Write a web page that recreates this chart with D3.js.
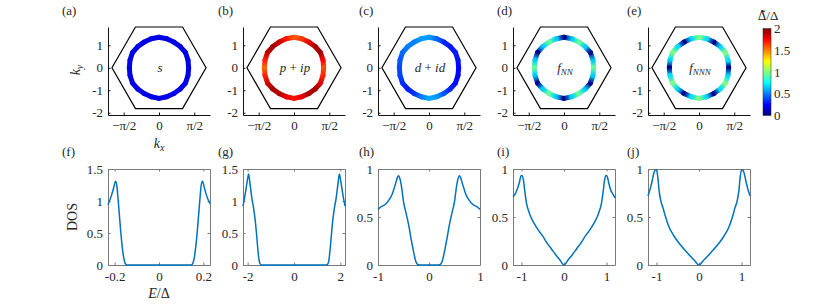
<!DOCTYPE html>
<html>
<head>
<meta charset="utf-8">
<script src="https://cdn.jsdelivr.net/npm/d3@7"></script>
<style>
body { margin: 0; background: #fff; }
svg text { font-family: 'Liberation Serif', 'Times New Roman', serif; fill: #262626; }
</style>
</head>
<body>
<svg id="fig" width="830" height="308"></svg>
<script>
// ---- data ----
// Brillouin zone corners (kx, ky)
const bzCorners = [[2.094, 0], [1.047, 1.814], [-1.047, 1.814], [-2.094, 0], [-1.047, -1.814], [1.047, -1.814]];

// Fermi surface, sampled every 15 degrees
const ringAngles = [0, 15, 30, 45, 60, 75, 90, 105, 120, 135, 150, 165, 180, 195, 210, 225, 240, 255, 270, 285, 300, 315, 330, 345];
const ringRadius = [1.32, 1.335, 1.36, 1.335, 1.32, 1.335, 1.36, 1.335, 1.32, 1.335, 1.36, 1.335,
                    1.32, 1.335, 1.36, 1.335, 1.32, 1.335, 1.36, 1.335, 1.32, 1.335, 1.36, 1.335];

// gap on the Fermi surface, Delta~/Delta
const gapS    = [0.2, 0.2, 0.2, 0.2, 0.2, 0.2, 0.2, 0.2, 0.2, 0.2, 0.2, 0.2,
                 0.2, 0.2, 0.2, 0.2, 0.2, 0.2, 0.2, 0.2, 0.2, 0.2, 0.2, 0.2];
const gapP    = [1.6, 1.75, 1.92, 1.92, 1.8, 1.65, 1.58, 1.7, 1.85, 1.93, 1.88, 1.7,
                 1.55, 1.68, 1.85, 1.92, 1.9, 1.8, 1.72, 1.8, 1.92, 1.93, 1.82, 1.68];
const gapD    = [0.26, 0.28, 0.3, 0.29, 0.32, 0.45, 0.56, 0.56, 0.5, 0.5, 0.46, 0.42,
                 0.4, 0.38, 0.34, 0.3, 0.35, 0.48, 0.58, 0.55, 0.42, 0.32, 0.28, 0.26];
const gapFNN  = [0.95, 0.65, 0.02, 0.65, 0.95, 0.65, 0.02, 0.65, 0.95, 0.65, 0.02, 0.65,
                 0.95, 0.65, 0.02, 0.65, 0.95, 0.65, 0.02, 0.65, 0.95, 0.65, 0.02, 0.65];
const gapFNNN = [0.02, 0.68, 1.0, 0.68, 0.02, 0.68, 1.0, 0.68, 0.02, 0.68, 1.0, 0.68,
                 0.02, 0.68, 1.0, 0.68, 0.02, 0.68, 1.0, 0.68, 0.02, 0.68, 1.0, 0.68];

// density of states
const eS   = [-0.23, -0.215, -0.205, -0.196, -0.19, -0.185, -0.178, -0.172, -0.166, -0.16, -0.155, -0.15, -0.145,
              0, 0.145, 0.15, 0.155, 0.16, 0.166, 0.172, 0.178, 0.185, 0.19, 0.196, 0.205, 0.215, 0.23];
const dosS = [0.94, 1.08, 1.2, 1.31, 1.24, 1.05, 0.75, 0.5, 0.29, 0.13, 0.05, 0.01, 0,
              0, 0, 0.01, 0.05, 0.13, 0.29, 0.5, 0.75, 1.05, 1.24, 1.31, 1.2, 1.08, 0.96];

const eP   = [-2.2, -2.1, -2.0, -1.96, -1.9, -1.82, -1.74, -1.68, -1.62, -1.56, -1.5, -1.45, -1.4,
              0, 1.4, 1.45, 1.5, 1.56, 1.62, 1.68, 1.74, 1.82, 1.9, 1.96, 2.0, 2.1, 2.2];
const dosP = [0.92, 1.12, 1.35, 1.42, 1.28, 1.05, 0.88, 0.72, 0.5, 0.25, 0.06, 0.01, 0,
              0, 0, 0.01, 0.06, 0.25, 0.5, 0.72, 0.88, 1.05, 1.28, 1.42, 1.35, 1.12, 0.92];

const eD   = [-1, -0.93, -0.86, -0.78, -0.72, -0.66, -0.62, -0.6, -0.57, -0.54, -0.5, -0.45, -0.4, -0.35, -0.3, -0.26, -0.22, -0.18,
              0, 0.18, 0.22, 0.26, 0.3, 0.35, 0.4, 0.45, 0.5, 0.54, 0.57, 0.6, 0.62, 0.66, 0.72, 0.78, 0.86, 0.93, 1];
const dosD = [0.58, 0.61, 0.63, 0.68, 0.74, 0.84, 0.91, 0.93, 0.9, 0.82, 0.66, 0.54, 0.42, 0.27, 0.13, 0.04, 0.005, 0,
              0, 0, 0.005, 0.04, 0.13, 0.27, 0.42, 0.54, 0.66, 0.82, 0.9, 0.93, 0.91, 0.84, 0.74, 0.68, 0.63, 0.61, 0.58];

const eFNN   = [-1.2, -1.15, -1.1, -1.05, -1.01, -0.98, -0.95, -0.92, -0.88, -0.83, -0.78, -0.7, -0.6, -0.5, -0.4, -0.3, -0.2, -0.1,
                0, 0.1, 0.2, 0.3, 0.4, 0.5, 0.6, 0.7, 0.78, 0.83, 0.88, 0.92, 0.95, 0.98, 1.01, 1.05, 1.1, 1.15, 1.2];
const dosFNN = [0.71, 0.74, 0.79, 0.86, 0.93, 0.93, 0.87, 0.76, 0.64, 0.56, 0.5, 0.43, 0.36, 0.3, 0.23, 0.17, 0.11, 0.055,
                0, 0.055, 0.11, 0.17, 0.23, 0.3, 0.36, 0.43, 0.5, 0.56, 0.64, 0.76, 0.87, 0.93, 0.93, 0.86, 0.78, 0.74, 0.7];

const eFNNN   = [-1.2, -1.15, -1.1, -1.06, -1.03, -1.0, -0.97, -0.94, -0.9, -0.85, -0.8, -0.7, -0.6, -0.5, -0.4, -0.3, -0.2, -0.1,
                 0, 0.1, 0.2, 0.3, 0.4, 0.5, 0.6, 0.7, 0.8, 0.85, 0.9, 0.94, 0.97, 1.0, 1.03, 1.06, 1.1, 1.15, 1.2];
const dosFNNN = [0.72, 0.79, 0.88, 0.96, 0.99, 0.99, 0.92, 0.78, 0.67, 0.6, 0.52, 0.39, 0.31, 0.245, 0.19, 0.14, 0.09, 0.045,
                 0, 0.045, 0.09, 0.14, 0.19, 0.245, 0.31, 0.39, 0.52, 0.6, 0.67, 0.78, 0.92, 0.99, 0.99, 0.96, 0.88, 0.79, 0.72];

const topLabels = ['(a)', '(b)', '(c)', '(d)', '(e)'];
const botLabels = ['(f)', '(g)', '(h)', '(i)', '(j)'];
const dosXDomain = [[-0.23, 0.23], [-2.2, 2.2], [-1, 1], [-1.2, 1.2], [-1.2, 1.2]];
const dosXTicks = [[-0.2, 0, 0.2], [-2, 0, 2], [-1, 0, 1], [-1, 0, 1], [-1, 0, 1]];
const dosYMax = [1.5, 1.5, 1, 1, 1];
const dosYTicks = [[0, 0.5, 1, 1.5], [0, 0.5, 1, 1.5], [0, 0.5, 1], [0, 0.5, 1], [0, 0.5, 1]];
const kTicks = [-Math.PI / 2, 0, Math.PI / 2];
const kTickLabels = ['\u2212\u03c0/2', '0', '\u03c0/2'];
const kyTicks = [-2, -1, 0, 1];
const cbTicks = [0, 0.5, 1, 1.5, 2];

const gaps = [gapS, gapP, gapD, gapFNN, gapFNNN];
const dosE = [eS, eP, eD, eFNN, eFNNN];
const dosV = [dosS, dosP, dosD, dosFNN, dosFNNN];

// ---- layout ----
const svg = d3.select('#fig');
const panelX = [108, 243, 378, 513, 648];
const labelX = [62, 218, 359, 497, 627];
const panelW = 102;
const topY = 27, topH = 88;
const botY = 169, botH = 96;
const tickFont = 13;

const jetStops = [0, 0.25, 0.75, 1.25, 1.75, 2];
const jet = d3.scaleLinear()
    .domain(jetStops)
    .range(['#000080', '#0000ff', '#00ffff', '#ffff00', '#ff0000', '#800000'])
    .clamp(true);

const defs = svg.append('defs');

function styleAxis(ax, color) {
    ax.attr('font-family', null).attr('font-size', null);
    ax.select('.domain').attr('stroke', color);
    ax.selectAll('.tick line').attr('stroke', color);
    ax.selectAll('.tick text').attr('font-size', tickFont).attr('fill', '#262626');
}

// ---- top row: gap on the Fermi surface ----
panelX.forEach((px, p) => {
    const g = svg.append('g').attr('transform', `translate(${px},${topY})`);
    const x = d3.scaleLinear().domain([-2.27, 2.27]).range([0, panelW]);
    const y = d3.scaleLinear().domain([-2.1, 1.814]).range([topH, 0]);

    // Brillouin zone
    g.append('path')
        .datum(bzCorners)
        .attr('d', d3.line().x(d => x(d[0])).y(d => y(d[1])).curve(d3.curveLinearClosed))
        .attr('fill', 'none')
        .attr('stroke', '#000')
        .attr('stroke-width', 1.2);

    // Fermi surface coloured by gap
    const gap = gaps[p];
    const pts = ringAngles.map((a, i) => {
        const t = a * Math.PI / 180;
        return [x(ringRadius[i] * Math.cos(t)), y(ringRadius[i] * Math.sin(t))];
    });
    const n = pts.length;
    for (let i = 0; i < n; i++) {
        const j = (i + 1) % n;
        const id = `fs${p}_${i}`;
        const grad = defs.append('linearGradient')
            .attr('id', id)
            .attr('gradientUnits', 'userSpaceOnUse')
            .attr('x1', px + pts[i][0]).attr('y1', topY + pts[i][1])
            .attr('x2', px + pts[j][0]).attr('y2', topY + pts[j][1]);
        grad.append('stop').attr('offset', 0).attr('stop-color', jet(gap[i]));
        grad.append('stop').attr('offset', 1).attr('stop-color', jet(gap[j]));
        svg.append('line')
            .attr('x1', px + pts[i][0]).attr('y1', topY + pts[i][1])
            .attr('x2', px + pts[j][0]).attr('y2', topY + pts[j][1])
            .attr('stroke', `url(#${id})`)
            .attr('stroke-width', 5)
            .attr('stroke-linecap', 'round');
    }

    // axes (box off, ticks inward)
    const ax = g.append('g')
        .attr('transform', `translate(0,${topH})`)
        .call(d3.axisBottom(x).tickValues(kTicks).tickFormat((d, i) => kTickLabels[i])
            .tickSizeInner(-2.5).tickSizeOuter(0).tickPadding(6));
    styleAxis(ax, '#111');
    const ay = g.append('g')
        .call(d3.axisLeft(y).tickValues(kyTicks).tickFormat(d => String(d))
            .tickSizeInner(-2.5).tickSizeOuter(0).tickPadding(5));
    styleAxis(ay, '#111');

    svg.append('text').attr('x', labelX[p]).attr('y', 15).attr('font-size', 13).text(topLabels[p]);
});

// labels inside the rings
const ringText = svg.append('g').attr('font-size', 13).attr('font-style', 'italic');
function centerLabel(p) {
    return ringText.append('text')
        .attr('x', panelX[p] + panelW / 2 + 1)
        .attr('y', topY + 45)
        .attr('text-anchor', 'middle');
}
centerLabel(0).text('s');
{
    const t = centerLabel(1);
    t.append('tspan').text('p ');
    t.append('tspan').attr('font-style', 'normal').text('+');
    t.append('tspan').text(' ip');
}
{
    const t = centerLabel(2);
    t.append('tspan').text('d ');
    t.append('tspan').attr('font-style', 'normal').text('+');
    t.append('tspan').text(' id');
}
{
    const t = centerLabel(3);
    t.append('tspan').text('f');
    t.append('tspan').attr('font-size', 9).attr('dy', 3).text('NN');
}
{
    const t = centerLabel(4);
    t.append('tspan').text('f');
    t.append('tspan').attr('font-size', 9).attr('dy', 3).text('NNN');
}

// k labels
{
    const t = svg.append('text').attr('x', panelX[0] + panelW / 2).attr('y', 148)
        .attr('text-anchor', 'middle').attr('font-size', 14);
    t.append('tspan').attr('font-style', 'italic').text('k');
    t.append('tspan').attr('font-style', 'italic').attr('font-size', 10).attr('dy', 3).text('x');
}
{
    const t = svg.append('text')
        .attr('transform', `translate(80,${topY + 43}) rotate(-90)`)
        .attr('text-anchor', 'middle').attr('font-size', 14);
    t.append('tspan').attr('font-style', 'italic').text('k');
    t.append('tspan').attr('font-style', 'italic').attr('font-size', 10).attr('dy', 3).text('y');
}

// colour bar
{
    const cbX = 763, cbY = 28.5, cbW = 8, cbH = 87;
    const grad = defs.append('linearGradient').attr('id', 'cbgrad')
        .attr('x1', 0).attr('y1', 1).attr('x2', 0).attr('y2', 0);
    jetStops.forEach(v => grad.append('stop').attr('offset', v / 2).attr('stop-color', jet(v)));
    svg.append('rect').attr('x', cbX).attr('y', cbY).attr('width', cbW).attr('height', cbH)
        .attr('fill', 'url(#cbgrad)').attr('stroke', '#262626').attr('stroke-width', 0.5);
    const cy = d3.scaleLinear().domain([0, 2]).range([cbY + cbH, cbY]);
    const ac = svg.append('g').attr('transform', `translate(${cbX + cbW},0)`)
        .call(d3.axisRight(cy).tickValues(cbTicks).tickFormat(d => String(d))
            .tickSizeInner(0).tickSizeOuter(0).tickPadding(3));
    ac.select('.domain').remove();
    styleAxis(ac, '#262626');
    const t = svg.append('text').attr('x', cbX + cbW / 2 + 1).attr('y', 20)
        .attr('text-anchor', 'middle').attr('font-size', 13);
    t.append('tspan').style('font-family', "'DejaVu Serif', serif").attr('font-size', 12).text('\u0394\u0303');
    t.append('tspan').text('/\u0394');
}

// ---- bottom row: density of states ----
panelX.forEach((px, p) => {
    const g = svg.append('g').attr('transform', `translate(${px},${botY})`);
    const x = d3.scaleLinear().domain(dosXDomain[p]).range([0, panelW]);
    const y = d3.scaleLinear().domain([0, dosYMax[p]]).range([botH, 0]);

    const boxColor = '#7a7a7a';
    const ab = g.append('g').attr('transform', `translate(0,${botH})`)
        .call(d3.axisBottom(x).tickValues(dosXTicks[p]).tickFormat(d => String(d))
            .tickSizeInner(-2.5).tickSizeOuter(0).tickPadding(7));
    styleAxis(ab, boxColor);
    const at = g.append('g')
        .call(d3.axisTop(x).tickValues(dosXTicks[p]).tickFormat('')
            .tickSizeInner(-2.5).tickSizeOuter(0));
    styleAxis(at, boxColor);
    const al = g.append('g')
        .call(d3.axisLeft(y).tickValues(dosYTicks[p]).tickFormat(d => String(d))
            .tickSizeInner(-2.5).tickSizeOuter(0).tickPadding(5));
    styleAxis(al, boxColor);
    const ar = g.append('g').attr('transform', `translate(${panelW},0)`)
        .call(d3.axisRight(y).tickValues(dosYTicks[p]).tickFormat('')
            .tickSizeInner(-2.5).tickSizeOuter(0));
    styleAxis(ar, boxColor);

    const pts = dosE[p].map((e, i) => [e, dosV[p][i]]);
    g.append('path')
        .datum(pts)
        .attr('d', d3.line().x(d => x(d[0])).y(d => y(d[1])).curve(d3.curveMonotoneX))
        .attr('fill', 'none')
        .attr('stroke', '#0072BD')
        .attr('stroke-width', 1.5)
        .attr('stroke-linejoin', 'round');

    svg.append('text').attr('x', labelX[p]).attr('y', 156).attr('font-size', 13).text(botLabels[p]);
});

// DOS axis labels
svg.append('text')
    .attr('transform', `translate(77,${botY + botH / 2}) rotate(-90)`)
    .attr('text-anchor', 'middle').attr('font-size', 14).text('DOS');
{
    const t = svg.append('text').attr('x', panelX[0] + panelW / 2).attr('y', 298)
        .attr('text-anchor', 'middle').attr('font-size', 14);
    t.append('tspan').attr('font-style', 'italic').text('E');
    t.append('tspan').text('/\u0394');
}
</script>
</body>
</html>
